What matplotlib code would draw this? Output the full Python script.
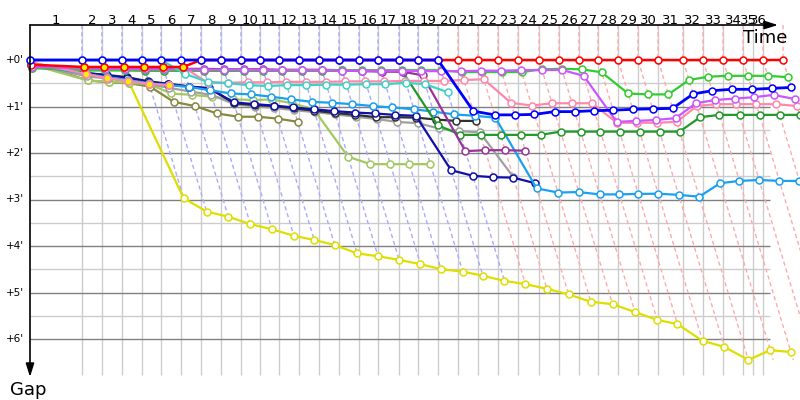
import numpy as np
import matplotlib.pyplot as plt

nan = np.nan
N_LAPS = 36

# leader's race time (min) at the end of each lap, lap 0 = start
lap_t = [0.00, 3.71, 5.14, 6.57, 8.00, 9.36, 10.79, 12.21, 13.64, 15.07,
         16.43, 17.79, 19.21, 20.64, 22.07, 23.50, 24.86, 26.36, 27.71, 29.14,
         30.57, 32.00, 33.43, 34.86, 36.36, 37.79, 39.21, 40.57, 42.00, 43.43,
         44.86, 46.64, 48.07, 49.50, 50.93, 52.36, 53.79]
grid_t = lap_t[:35] + [51.64, 52.36]
lap_labels = [str(i) for i in range(1, N_LAPS + 1)]
gap_major = [0, 1, 2, 3, 4, 5, 6]
gap_minor = [0.5, 1.5, 2.5, 3.5, 4.5, 5.5]

# gap to the leader (min) per lap, one list per rider
blue = [0] * 20 + [1.10, 1.18, 1.18, 1.17, 1.11, 1.11, 1.09, 1.08, 1.06, 1.05,
                   1.04, 0.73, 0.66, 0.63, 0.63, 0.61, 0.59]
red = [0.10] + [0.15] * 6 + [0] * 30
cyan = [0] * 6 + [0.30, 0.47, 0.50, 0.54, 0.56, 0.54, 0.54, 0.53, 0.53, 0.52,
                  0.52, 0.49, 0.52, 0.69]
pink_a = [0.05, 0.30, 0.39, 0.45, 0.51, 0.54]
pink_b = [nan] * 6 + [0.15, 0.49, 0.49, 0.48, 0.48, 0.47, 0.47, 0.47, 0.46, 0.46,
                      0.46, 0.45, 0.45, 0.45, 0.43, 0.415, 0.92, 0.98, 0.93, 0.93,
                      0.93, 1.35, 1.35, 1.35, 1.33, 0.99, 0.95, 0.95, 0.95, 0.95, 0.99]
violet = [0.15, 0.18, 0.19, 0.19, 0.20, 0.20, 0.20, 0.21, 0.21, 0.21,
          0.22, 0.22, 0.22, 0.22, 0.23, 0.23, 0.23, 0.23, 0.24, 0.24,
          0.24, 0.23, 0.23, 0.22, 0.215, 0.215, 0.34, 1.33, 1.31, 1.29,
          1.25, 0.93, 0.86, 0.83, 0.80, 0.75, 0.84]
purple = [0.15, 0.17, 0.18, 0.18, 0.19, 0.19, 0.19, 0.19, 0.20, 0.20,
          0.20, 0.21, 0.21, 0.21, 0.22, 0.24, 0.25, 0.25, 0.33, 1.96,
          1.94, 1.94, 1.95]
dgreen = [0.17] + [0.22] * 3 + [0.23] * 13 + [0.25, 1.40] + [1.61] * 5 + [1.54] * 7 + [1.23] + [1.18] * 5
lgreen = [0.17] + [0.22] * 19 + [0.26, 0.26, 0.26, 0.26, 0.20, 0.19, 0.20, 0.265, 0.72, 0.74,
                                 0.74, 0.43, 0.36, 0.34, 0.34, 0.34, 0.37]
sky = [0.10, 0.30, 0.37, 0.43, 0.50, 0.54, 0.58, 0.65, 0.72, 0.74,
       0.79, 0.845, 0.90, 0.92, 0.95, 0.99, 1.02, 1.06, 1.11, 1.17,
       1.20, 1.24, 2.76, 2.85, 2.84, 2.89, 2.89, 2.88, 2.875, 2.90,
       2.94, 2.65, 2.60, 2.58, 2.60, 2.60, 2.60]
navy = [0.08, 0.28, 0.33, 0.38, 0.47, 0.52, 0.57, 0.61, 0.91, 0.95,
        0.98, 1.02, 1.06, 1.10, 1.13, 1.15, 1.18, 1.20, 2.37, 2.49,
        2.52, 2.53, 2.65]
black = [0.08, 0.28, 0.32, 0.37, 0.46, 0.51, 0.57, 0.61, 0.93, 0.97,
         0.99, 1.04, 1.09, 1.14, 1.18, 1.23, 1.23, 1.24, 1.28, 1.31, 1.31]
gray = [0.10, 0.35, 0.40, 0.45, 0.52, 0.60, 0.68, 0.75, 0.95, 1.00,
        1.03, 1.08, 1.12, 1.17, 1.22, 1.27, 1.33, 1.36, 1.47, 1.53,
        1.555, 2.51]
olive = [0.05, 0.44, 0.48, 0.50, 0.57, 0.90, 0.99, 1.15, 1.22, 1.22, 1.26, 1.33]
ygreen = [0.10, 0.44, 0.47, 0.49, 0.52, 0.72, 0.75, 0.79, 0.845, 0.86,
          0.85, 0.93, 1.06, 2.08, 2.24, 2.24, 2.24, 2.24]
yellow = [0.05, 0.30, 0.39, 0.45, 2.97, 3.26, 3.37, 3.53, 3.64, 3.78,
          3.87, 3.98, 4.16, 4.22, 4.30, 4.39, 4.50, 4.55, 4.64, 4.75,
          4.82, 4.92, 5.04, 5.20, 5.25, 5.42, 5.59, 5.68, 6.04, 6.17,
          6.45, 6.24, 6.28]


def pad(g):
    return np.array(list(g) + [nan] * (N_LAPS + 1 - len(g)), dtype=float)


# (gaps, colour, line width, laps drawn with a yellow marker), bottom to top
riders = [
    (yellow, "#dede00", 1.6, []),
    (olive, "#888840", 1.6, []),
    (ygreen, "#a4c860", 1.6, []),
    (gray, "#a0a0a0", 1.6, []),
    (black, "#303030", 1.6, []),
    (navy, "#1010a8", 1.6, []),
    (sky, "#1aa0f0", 1.6, []),
    (dgreen, "#22992a", 1.6, []),
    (purple, "#993399", 1.6, []),
    (lgreen, "#30cc30", 1.6, []),
    (pink_a, "#ff88aa", 1.6, [1, 2, 3, 4, 5]),
    (pink_b, "#ff88aa", 1.6, []),
    (violet, "#cc55ff", 1.6, []),
    (cyan, "#40d0c8", 1.6, []),
    (red, "#ff0000", 1.8, [1, 2, 3, 4, 5, 6]),
    (blue, "#0000ff", 2.0, []),
]

px_x, px_y = 14.0, 46.5          # pixels per minute, horizontal / vertical
top = -35 / px_y                 # time axis sits above the +0' line
fig = plt.figure(figsize=(8, 4), dpi=100)
ax = fig.add_axes([0, 0, 1, 1])
ax.set_xlim(-30 / px_x, 770 / px_x)
ax.set_ylim(340 / px_y, -60 / px_y)
ax.axis("off")

x_end = 740 / px_x
y_end = 315 / px_y

# grid
ax.vlines(grid_t[1:], top, y_end, color="#cccccc", lw=1, zorder=1)
ax.hlines(gap_minor, 0, x_end, color="#cccccc", lw=1, zorder=1)
ax.hlines(gap_major, 0, x_end, color="#808080", lw=1, zorder=1.5)

# iso-time dashes: leader passing a lap line, coloured like the leader
all_gaps = np.array([pad(r[0]) for r in riders])
deepest = np.fmax.accumulate(np.nan_to_num(all_gaps, nan=-1), axis=1).max(axis=0)
for k in range(1, N_LAPS + 1):
    lead = [c for g, c, _, _ in riders if pad(g)[k] == 0]
    col = "#aaaaff" if lead and lead[-1] == "#0000ff" else "#ffaaaa"
    ax.plot([lap_t[k], lap_t[k], lap_t[k] + deepest[k]], [top, 0, deepest[k]],
            color=col, lw=1, ls=(0, (3, 2.2)), zorder=2)

# riders
for i, (g, c, lw, hl) in enumerate(riders):
    g = pad(g)
    x = np.array(lap_t) + g
    ax.plot(x, g, "-o", color=c, lw=lw, ms=5, mfc="white", mec=c, mew=1.1,
            zorder=3 + i * 0.01)
    if hl:
        ax.plot(x[hl], g[hl], "o", ms=5, mfc="#ffee00", mec=c, mew=1.1,
                zorder=3.5 + i * 0.01)

# axes with arrows
ax.annotate("", xy=(748 / px_x, top), xytext=(0, top),
            arrowprops=dict(arrowstyle="-|>,head_length=0.8,head_width=0.25",
                            color="black", lw=1.2, mutation_scale=10,
                            shrinkA=0, shrinkB=0), zorder=5)
ax.annotate("", xy=(0, 317 / px_y), xytext=(0, top),
            arrowprops=dict(arrowstyle="-|>,head_length=0.8,head_width=0.25",
                            color="black", lw=1.2, mutation_scale=10,
                            shrinkA=0, shrinkB=0), zorder=5)

for i, lab in enumerate(lap_labels):
    ax.text((grid_t[i] + grid_t[i + 1]) / 2, -40 / px_y, lab,
            ha="center", va="center", fontsize=9.5)
for g in gap_major:
    ax.text(-6 / px_x, g, "+%d'" % g, ha="right", va="center", fontsize=7.5)

ax.text(757 / px_x, -22 / px_y, "Time", ha="right", va="center", fontsize=13)
ax.text(-2 / px_x, 330 / px_y, "Gap", ha="center", va="center", fontsize=13)

fig.savefig("out.png", dpi=100)
